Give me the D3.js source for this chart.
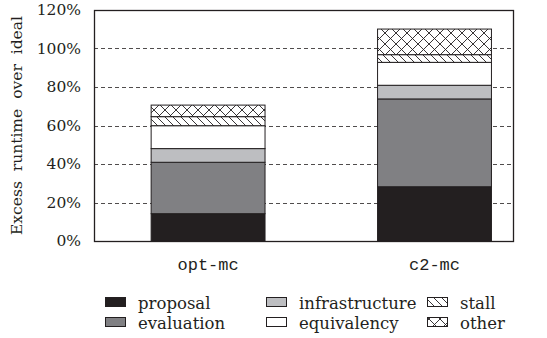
<!DOCTYPE html>
<html>
<head>
<meta charset="utf-8">
<script src="https://cdn.jsdelivr.net/npm/d3@7"></script>
<style>
  html, body { margin: 0; padding: 0; background: #fff; }
  svg { display: block; }
</style>
</head>
<body>
<svg id="chart" width="547" height="338"></svg>
<script>
// Stacked breakdown of excess runtime for each configuration
const categories = ["opt-mc", "c2-mc"];
const seriesNames = ["proposal", "evaluation", "infrastructure", "equivalency", "stall", "other"];
const proposal       = [14.2, 28.2];
const evaluation     = [26.7, 45.6];
const infrastructure = [7.1, 7.1];
const equivalency    = [11.9, 11.9];
const stall          = [4.7, 4.0];
const other          = [6.0, 13.3];
const yTicks = [0, 20, 40, 60, 80, 100, 120];

const seriesValues = [proposal, evaluation, infrastructure, equivalency, stall, other];
const rows = categories.map((c, i) => {
  const r = { category: c };
  seriesNames.forEach((s, k) => { r[s] = seriesValues[k][i]; });
  return r;
});

const SERIF = '"DejaVu Serif", "Liberation Serif", serif';
const MONO = '"Liberation Mono", "DejaVu Sans Mono", monospace';
const INK = "#231f20";

const svg = d3.select("#chart");
const margin = { left: 94, right: 33, top: 10, bottom: 97 };
const W = 547, H = 338;
const x = d3.scaleBand().domain(categories).range([margin.left, W - margin.right])
  .paddingInner(0.497).paddingOuter(0.176).align(0.717);
const y = d3.scaleLinear().domain([0, 120]).range([H - margin.bottom, margin.top]);

const defs = svg.append("defs");
// stall: single diagonal hatch
const pStall = defs.append("pattern").attr("id", "hatch-stall")
  .attr("patternUnits", "userSpaceOnUse").attr("width", 8).attr("height", 8);
pStall.append("rect").attr("width", 8).attr("height", 8).attr("fill", "#fff");
pStall.append("path").attr("d", "M-2,-2 L10,10 M-2,6 L2,10 M6,-2 L10,2")
  .attr("stroke", INK).attr("stroke-width", 0.9);
// other: cross hatch
const pOther = defs.append("pattern").attr("id", "hatch-other")
  .attr("patternUnits", "userSpaceOnUse").attr("width", 11).attr("height", 11);
pOther.append("rect").attr("width", 11).attr("height", 11).attr("fill", "#fff");
pOther.append("path").attr("d", "M0,0 L11,11 M11,0 L0,11")
  .attr("stroke", INK).attr("stroke-width", 0.9);

const fills = {
  proposal: INK,
  evaluation: "#808083",
  infrastructure: "#bdbec1",
  equivalency: "#ffffff",
  stall: "url(#hatch-stall)",
  other: "url(#hatch-other)"
};

// gridlines
svg.append("g").selectAll("line").data(yTicks.filter(t => t > 0 && t < 120)).join("line")
  .attr("x1", margin.left).attr("x2", W - margin.right)
  .attr("y1", d => Math.round(y(d)) + 0.5).attr("y2", d => Math.round(y(d)) + 0.5)
  .attr("stroke", INK).attr("stroke-width", 0.8).attr("stroke-dasharray", "4,3");

// stacked bars
const stack = d3.stack().keys(seriesNames)(rows);
const layers = svg.append("g").selectAll("g").data(stack).join("g")
  .attr("fill", d => fills[d.key]);
layers.selectAll("rect").data(d => d).join("rect")
  .attr("x", d => x(d.data.category))
  .attr("width", x.bandwidth())
  .attr("y", d => y(d[1]))
  .attr("height", d => y(d[0]) - y(d[1]))
  .attr("stroke", INK).attr("stroke-width", 1);

// frame
svg.append("rect")
  .attr("x", margin.left + 0.5).attr("y", margin.top + 0.5)
  .attr("width", W - margin.right - margin.left - 1).attr("height", y(0) - margin.top)
  .attr("fill", "none").attr("stroke", INK).attr("stroke-width", 1.3);

// y axis labels
const yAxis = d3.axisLeft(y).tickValues(yTicks).tickFormat(d => d + "%").tickSize(0).tickPadding(13);
const ga = svg.append("g").attr("transform", `translate(${margin.left},0)`).call(yAxis);
ga.select(".domain").remove();
ga.selectAll("text").style("font-family", SERIF).style("font-size", "15.5px").attr("fill", INK);

// x axis labels
const xAxis = d3.axisBottom(x).tickSize(0).tickPadding(17);
const gx = svg.append("g").attr("transform", `translate(0,${y(0)})`).call(xAxis);
gx.select(".domain").remove();
gx.selectAll("text").style("font-family", MONO).style("font-size", "17px").attr("fill", INK);

// y axis title
svg.append("text")
  .attr("transform", `translate(22,${(margin.top + y(0)) / 2}) rotate(-90)`)
  .attr("text-anchor", "middle")
  .style("font-family", SERIF).style("font-size", "15.5px").style("word-spacing", "5px")
  .attr("fill", INK)
  .text("Excess runtime over ideal");

// legend
const legendPos = [
  [105, 302], [105, 322], [266, 302], [266, 322], [427, 302], [427, 322]
];
const lg = svg.append("g");
seriesNames.forEach((s, i) => {
  const [lx, ly] = legendPos[i];
  lg.append("rect").attr("x", lx + 0.5).attr("y", ly - 4.5).attr("width", 20).attr("height", 9)
    .attr("fill", fills[s]).attr("stroke", INK).attr("stroke-width", 1);
  lg.append("text").attr("x", lx + 33).attr("y", ly + 7)
    .style("font-family", SERIF).style("font-size", "16.5px").attr("fill", INK).text(s);
});
</script>
</body>
</html>
